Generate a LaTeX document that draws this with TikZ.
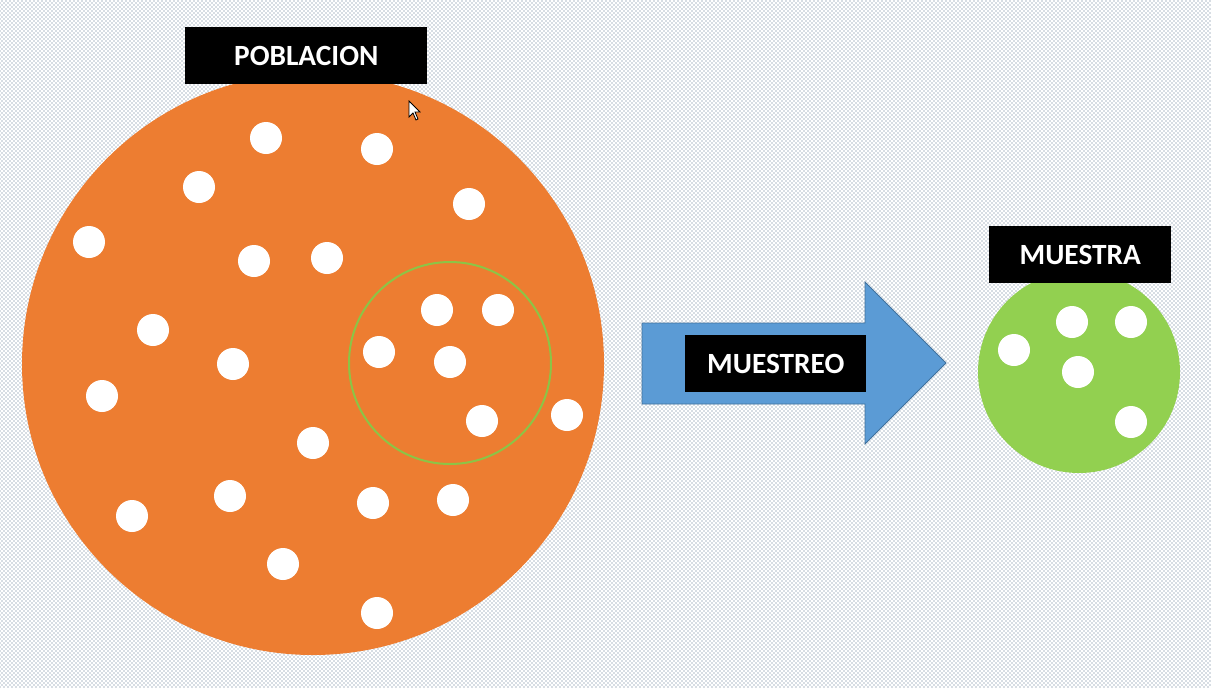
\documentclass[tikz,border=0pt]{standalone}
\usepackage{fontspec}
\setmainfont{Carlito}
\usetikzlibrary{patterns}
\definecolor{bgdot}{RGB}{85,110,135}
\definecolor{pop}{RGB}{237,125,49}
\definecolor{samp}{RGB}{146,208,80}
\definecolor{ring}{RGB}{140,196,70}
\definecolor{arrowfill}{RGB}{91,155,213}
\definecolor{arrowline}{RGB}{65,113,156}
\begin{document}
\begin{tikzpicture}[x=0.75pt,y=-0.75pt,
  label box/.style={fill=black,text=white,font=\bfseries\fontsize{22}{26}\selectfont,inner sep=0pt,anchor=north west},
  member/.style={circle,fill=white,minimum size=24pt,inner sep=0pt}]
\useasboundingbox (0,0) rectangle (1211,687);
\fill[white] (0,0) rectangle (1211,687);
\fill[pattern=crosshatch dots,pattern color=bgdot] (0,0) rectangle (1211,687);
% population
\node[circle,fill=pop,minimum size=436.5pt,inner sep=0pt] (pop) at (313,364) {};
\foreach \x/\y [count=\i] in {266/138,377/149,199/187,469/204,89/242,254/261,327/258,153/330,437/310,498/310,379/352,450/362,233/364,102/396,567/415,482/421,313/443,230/496,132/516,373/503,453/500,283/564,377/613}
  \node[member] (p\i) at (\x,\y) {};
\node[circle,draw=ring,line width=1.5pt,minimum size=151.5pt,inner sep=0pt] (subset) at (450,363) {};
\node[label box,minimum width=181.5pt,minimum height=42.75pt] (poblacion) at (185,27) {POBLACION};
% cursor
\filldraw[fill=white,draw=black,line width=0.6pt] (409,101) -- (409,117) -- (413,113) -- (416,120) -- (418,119) -- (415,112) -- (420,112) -- cycle;
% arrow
\filldraw[fill=arrowfill,draw=arrowline,line width=0.6pt] (642,323) -- (865,323) -- (865,282) -- (946,363) -- (865,444) -- (865,404) -- (642,404) -- cycle;
\node[label box,minimum width=135.75pt,minimum height=42.75pt] (muestreo) at (685,335) {MUESTREO};
% sample
\node[circle,fill=samp,minimum size=151.5pt,inner sep=0pt] (sample) at (1079,372) {};
\foreach \x/\y [count=\i] in {1014/350,1072/322,1131/322,1078/372,1131/422}
  \node[member] (s\i) at (\x,\y) {};
\node[label box,minimum width=136.5pt,minimum height=42.75pt] (muestra) at (989,226) {MUESTRA};
\end{tikzpicture}
\end{document}
